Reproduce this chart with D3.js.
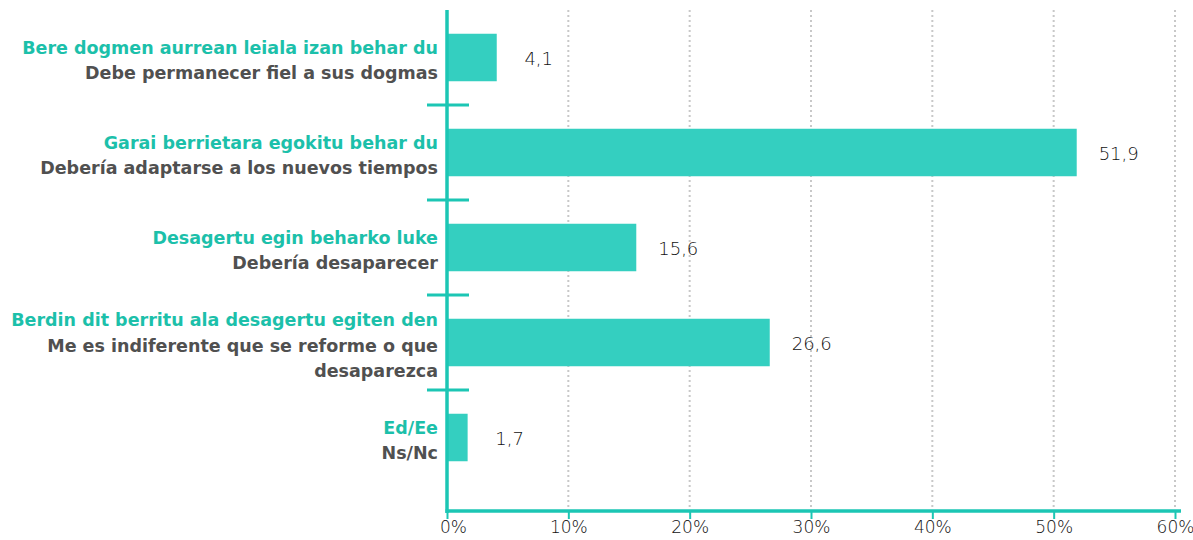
<!DOCTYPE html>
<html>
<head>
<meta charset="utf-8">
<script src="https://cdn.jsdelivr.net/npm/d3@7"></script>
<style>
  body { margin: 0; background: #fff; }
  svg { display: block; }
</style>
</head>
<body>
<div id="chart"></div>
<script>
const labelsEu = [
  'Bere dogmen aurrean leiala izan behar du',
  'Garai berrietara egokitu behar du',
  'Desagertu egin beharko luke',
  'Berdin dit berritu ala desagertu egiten den',
  'Ed/Ee'
];
const labelsEs = [
  ['Debe permanecer fiel a sus dogmas'],
  ['Debería adaptarse a los nuevos tiempos'],
  ['Debería desaparecer'],
  ['Me es indiferente que se reforme o que', 'desaparezca'],
  ['Ns/Nc']
];
const values = [4.1, 51.9, 15.6, 26.6, 1.7];
const xTicks = [0, 10, 20, 30, 40, 50, 60];

const width = 1193;
const height = 540;
const teal = '#1cc6b4';
const barColor = '#34cfc0';
const lightFont = '"DejaVu Sans", sans-serif';

const svg = d3.select('#chart').append('svg')
  .attr('width', width)
  .attr('height', height);

const x = d3.scaleLinear().domain([0, 60]).range([447, 1175]);
const y = d3.scaleBand().domain(d3.range(values.length)).range([10, 485]).paddingInner(0.5).paddingOuter(0.25);

// dotted grid
svg.append('g')
  .selectAll('line')
  .data(xTicks.slice(1))
  .enter()
  .append('line')
  .attr('x1', d => x(d)).attr('x2', d => x(d))
  .attr('y1', 10).attr('y2', 511)
  .attr('stroke', '#c8c8c8')
  .attr('stroke-width', 2)
  .attr('stroke-dasharray', '2,3');

// bars
svg.append('g')
  .selectAll('rect')
  .data(values)
  .enter()
  .append('rect')
  .attr('x', x(0))
  .attr('y', (d, i) => y(i))
  .attr('width', d => x(d) - x(0))
  .attr('height', y.bandwidth())
  .attr('fill', barColor);

// value labels
svg.append('g')
  .selectAll('text')
  .data(values)
  .enter()
  .append('text')
  .attr('x', d => x(d) + 42)
  .attr('y', (d, i) => y(i) + y.bandwidth() / 2 + 1)
  .attr('dy', '0.35em')
  .attr('text-anchor', 'middle')
  .attr('font-family', lightFont)
  .attr('font-weight', 200)
  .attr('font-size', 18)
  .attr('fill', '#111')
  .text(d => d3.format('.1f')(d).replace('.', ','));

// x axis
const xAxis = svg.append('g')
  .attr('transform', 'translate(0,511)')
  .call(d3.axisBottom(x).tickValues(xTicks).tickFormat(d => d + '%').tickSize(8).tickPadding(2));
xAxis.select('.domain').remove();
xAxis.selectAll('.tick line').attr('stroke', teal).attr('stroke-width', 2);
xAxis.selectAll('.tick text')
  .attr('font-family', lightFont)
  .attr('font-weight', 200)
  .attr('font-size', 17)
  .attr('fill', '#111');
xAxis.select('.tick text').attr('dx', 6);
svg.append('line')
  .attr('x1', x(0) - 1.5).attr('x2', 1181)
  .attr('y1', 511).attr('y2', 511)
  .attr('stroke', teal).attr('stroke-width', 3.5);

// y axis line and separators
svg.append('line')
  .attr('x1', x(0)).attr('x2', x(0))
  .attr('y1', 10).attr('y2', 513)
  .attr('stroke', teal).attr('stroke-width', 3.5);

const step = y.step();
svg.append('g')
  .selectAll('line')
  .data(d3.range(1, values.length))
  .enter()
  .append('line')
  .attr('x1', x(0) - 20).attr('x2', x(0) + 22)
  .attr('y1', i => y(i) - (step - y.bandwidth()) / 2)
  .attr('y2', i => y(i) - (step - y.bandwidth()) / 2)
  .attr('stroke', teal).attr('stroke-width', 3);

// category labels
const lab = svg.append('g')
  .selectAll('text')
  .data(values)
  .enter()
  .append('text')
  .attr('text-anchor', 'end')
  .attr('font-family', '"DejaVu Sans", sans-serif')
  .attr('font-weight', 'bold')
  .attr('font-size', 17.5);

lab.each(function(d, i) {
  const lines = [{t: labelsEu[i], c: '#1cc0aa'}].concat(labelsEs[i].map(t => ({t: t, c: '#505050'})));
  const lh = 25.5;
  const cy = y(i) + y.bandwidth() / 2 + 3;
  const top = cy - (lines.length - 1) * lh / 2;
  d3.select(this).selectAll('tspan')
    .data(lines)
    .enter()
    .append('tspan')
    .attr('x', 438)
    .attr('y', (l, k) => top + k * lh)
    .attr('dy', '0.35em')
    .attr('fill', l => l.c)
    .text(l => l.t);
});
</script>
</body>
</html>
